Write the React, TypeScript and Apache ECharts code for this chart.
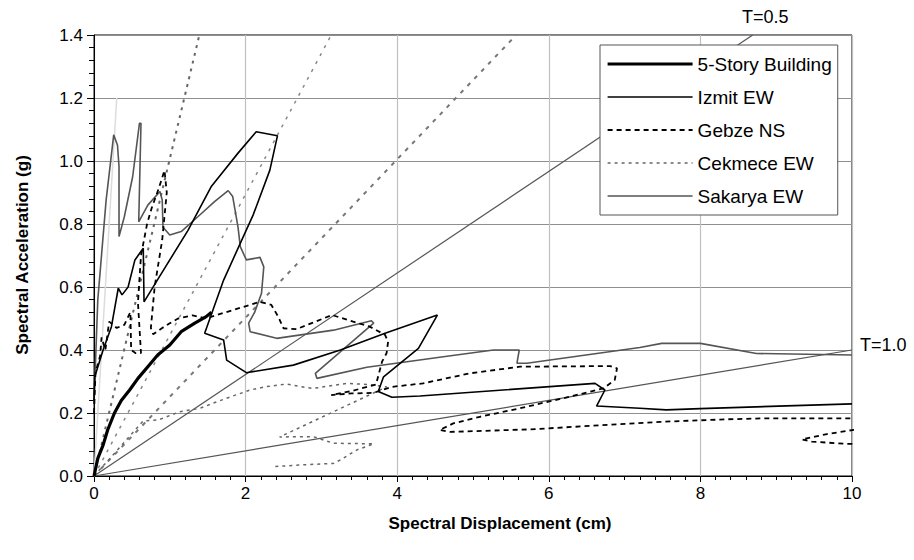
import React, { useEffect, useRef } from "react";
import * as echarts from "echarts";

// Sd (cm), Sa (g)
const story5: [number, number][] = [
  [0, 0], [0.05, 0.056], [0.12, 0.098], [0.18, 0.146], [0.27, 0.2], [0.36, 0.24],
  [0.47, 0.273], [0.58, 0.31], [0.71, 0.347], [0.84, 0.384], [1.0, 0.416],
  [1.15, 0.458], [1.33, 0.485], [1.48, 0.506], [1.55, 0.52],
];

const izmitEW: [number, number][] = [
  [0, 0.24], [0.01, 0.315], [0.12, 0.4], [0.23, 0.474], [0.32, 0.596], [0.37, 0.575],
  [0.45, 0.6], [0.54, 0.686], [0.65, 0.723], [0.66, 0.553], [0.89, 0.643],
  [1.24, 0.78], [1.55, 0.92], [1.9, 1.025], [2.14, 1.093], [2.42, 1.08],
  [2.32, 0.971], [2.1, 0.829], [1.71, 0.622], [1.46, 0.453], [1.71, 0.432],
  [1.75, 0.368], [2.01, 0.328], [2.63, 0.352], [3.25, 0.4], [3.84, 0.453],
  [4.53, 0.511], [4.28, 0.405], [3.82, 0.315], [3.75, 0.268], [3.93, 0.25],
  [4.3, 0.254], [6.61, 0.294], [6.74, 0.273], [6.63, 0.222], [7.2, 0.215],
  [7.55, 0.21], [8.0, 0.214], [10, 0.229],
];

const gebzeNS: [number, number][] = [
  [0, 0.2], [0.02, 0.33], [0.08, 0.38], [0.1, 0.44], [0.15, 0.4], [0.2, 0.49],
  [0.3, 0.47], [0.4, 0.48], [0.48, 0.52], [0.49, 0.4], [0.55, 0.39], [0.62, 0.39],
  [0.58, 0.55], [0.62, 0.7], [0.7, 0.8], [0.76, 0.85], [0.85, 0.91], [0.93, 0.97],
  [0.96, 0.9], [0.9, 0.75], [0.8, 0.6], [0.75, 0.47], [0.78, 0.45], [0.9, 0.47],
  [1.0, 0.485], [1.11, 0.5], [1.3, 0.51], [1.48, 0.5], [1.62, 0.511], [2.19, 0.553],
  [2.34, 0.543], [2.43, 0.506], [2.5, 0.469], [2.67, 0.466], [3.14, 0.511],
  [3.42, 0.49], [3.64, 0.474], [3.84, 0.448], [3.88, 0.426], [3.86, 0.39],
  [3.8, 0.363], [3.72, 0.29], [3.4, 0.27], [3.13, 0.257], [3.4, 0.262],
  [3.69, 0.264], [3.93, 0.283], [4.34, 0.294], [4.96, 0.326], [5.62, 0.347],
  [6.81, 0.349], [6.9, 0.342], [6.87, 0.305], [6.72, 0.278], [6.28, 0.252],
  [5.62, 0.215], [5.09, 0.188], [4.74, 0.167], [4.56, 0.146], [4.7, 0.14],
  [5.75, 0.148], [7.47, 0.172], [8.35, 0.18], [8.83, 0.183], [10, 0.183],
  [10.5, 0.16], [9.95, 0.144], [9.67, 0.133], [9.51, 0.125], [9.34, 0.116],
  [9.47, 0.109], [9.93, 0.102], [10.5, 0.1],
];

const cekmeceEW: [number, number][] = [
  [0, 0], [0.3, 0.08], [0.65, 0.175], [0.85, 0.178], [1.13, 0.204], [1.4, 0.215],
  [1.57, 0.231], [1.75, 0.247], [2.06, 0.273], [2.28, 0.284], [2.54, 0.292],
  [2.72, 0.284], [2.89, 0.278], [3.33, 0.294], [3.64, 0.29], [3.86, 0.283],
  [2.45, 0.124], [2.89, 0.125], [3.16, 0.104], [3.69, 0.102],
  [3.47, 0.083], [3.25, 0.051], [3.16, 0.04], [2.72, 0.035], [2.39, 0.03],
];

const sakaryaEW: [number, number][] = [
  [0, 0.23], [0.05, 0.559], [0.16, 0.876], [0.26, 1.083], [0.31, 1.05], [0.33, 0.982],
  [0.33, 0.76], [0.4, 0.823], [0.51, 0.95], [0.6, 1.12], [0.62, 1.12], [0.59, 0.807],
  [0.71, 0.86], [0.87, 0.903], [0.9, 0.876], [0.91, 0.79], [1.0, 0.765], [1.15, 0.776],
  [1.37, 0.823], [1.59, 0.871], [1.77, 0.906], [1.83, 0.887], [1.9, 0.79],
  [1.93, 0.728], [2.01, 0.686], [2.19, 0.694], [2.24, 0.664], [2.21, 0.58],
  [2.12, 0.52], [2.04, 0.485], [2.06, 0.458], [2.41, 0.437], [3.16, 0.463],
  [3.66, 0.493], [3.69, 0.485], [2.92, 0.326], [2.94, 0.31], [3.6, 0.345],
  [4.56, 0.377], [5.27, 0.4], [5.61, 0.4], [5.58, 0.358], [5.71, 0.358],
  [7.2, 0.408], [7.49, 0.421], [8.0, 0.421], [8.74, 0.389], [10, 0.384],
];

// Constant-period lines: end points [Sd, Sa]
const periodLabels = ["T=0.1", "T=0.2", "T=0.3", "T=0.4", "T=0.5", "T=1.0"];
const periodEnds: [number, number][] = [
  [0.3, 1.2], [1.39, 1.4], [3.13, 1.4], [5.57, 1.4], [8.69, 1.4], [10, 0.4],
];

const xTicks = [0, 2, 4, 6, 8, 10];
const yTicks = [0, 0.2, 0.4, 0.6, 0.8, 1.0, 1.2, 1.4];

const FONT = "'Liberation Sans', Arial, sans-serif";

export default function App() {
  const ref = useRef<HTMLDivElement>(null);
  useEffect(() => {
    const chart = echarts.init(ref.current!, null, { renderer: "svg" });
    const periodStyles = [
      { color: "#dcdcdc", width: 1.5, type: "solid" },
      { color: "#666", width: 2, type: [3, 5] },
      { color: "#888", width: 1.5, type: [3, 6] },
      { color: "#777", width: 2, type: [4, 6] },
      { color: "#555", width: 1.2, type: "solid" },
      { color: "#555", width: 1.2, type: "solid" },
    ];
    const periodSeries = periodEnds.map((end, i) => ({
      name: periodLabels[i],
      type: "line",
      data: [[0, 0], end],
      symbol: "none",
      silent: true,
      lineStyle: periodStyles[i],
      z: 1,
    }));
    const mk = (name: string, data: [number, number][], ls: any) => ({
      name,
      type: "line",
      data,
      symbol: "none",
      clip: true,
      color: ls.color,
      lineStyle: ls,
      z: 3,
    });
    chart.setOption({
      animation: false,
      backgroundColor: "#fff",
      textStyle: { fontFamily: FONT },
      grid: {
        left: 94, right: 62, top: 35, bottom: 84,
        show: true, borderColor: "#000", borderWidth: 1, backgroundColor: "transparent",
      },
      xAxis: {
        type: "value", min: xTicks[0], max: xTicks[xTicks.length - 1], interval: 2,
        axisLine: { show: true, lineStyle: { color: "#000", width: 1 } },
        axisTick: { show: true, length: 6, lineStyle: { color: "#000" } },
        minorTick: { show: true, splitNumber: 10, length: 4, lineStyle: { color: "#000" } },
        splitLine: { show: true, lineStyle: { color: "#c0c0c0", width: 1.2 } },
        axisLabel: { color: "#000", fontSize: 17, fontFamily: FONT, margin: 9 },
      },
      yAxis: {
        type: "value", min: yTicks[0], max: yTicks[yTicks.length - 1], interval: 0.2,
        axisLine: { show: true, lineStyle: { color: "#000", width: 1 } },
        axisTick: { show: true, length: 7, lineStyle: { color: "#000" } },
        minorTick: { show: true, splitNumber: 5, length: 5, lineStyle: { color: "#000" } },
        splitLine: { show: true, lineStyle: { color: "#8f8f8f", width: 1.2 } },
        axisLabel: {
          color: "#000", fontSize: 17, fontFamily: FONT, margin: 11,
          formatter: (v: number) => v.toFixed(1),
        },
      },
      legend: {
        data: ["5-Story Building", "Izmit EW", "Gebze NS", "Cekmece EW", "Sakarya EW"],
        orient: "vertical",
        left: 600, top: 45,
        padding: [9, 6, 9, 6],
        itemWidth: 85, itemHeight: 14, itemGap: 13,
        backgroundColor: "#fff", borderColor: "#555", borderWidth: 1, borderRadius: 0,
        itemStyle: { opacity: 0 },
        lineStyle: { width: "inherit" },
        textStyle: { fontFamily: FONT, fontSize: 19, color: "#000", lineHeight: 20 },
      },
      graphic: [
        {
          type: "text", left: 742, top: 8,
          style: { text: periodLabels[4], font: `18px ${FONT}`, fill: "#000" },
        },
        {
          type: "text", left: 860, top: 336,
          style: { text: periodLabels[5], font: `18px ${FONT}`, fill: "#000" },
        },
        {
          type: "text", x: 22, y: 255, rotation: Math.PI / 2,
          style: {
            text: "Spectral Acceleration (g)", font: `bold 17px ${FONT}`, fill: "#000",
            align: "center", verticalAlign: "middle",
          },
        },
        {
          type: "text", x: 500, y: 523,
          style: {
            text: "Spectral Displacement (cm)", font: `bold 17px ${FONT}`, fill: "#000",
            align: "center", verticalAlign: "middle",
          },
        },
      ],
      series: [
        ...periodSeries,
        mk("Cekmece EW", cekmeceEW, { color: "#666", width: 1.5, type: [3, 4] }),
        mk("Sakarya EW", sakaryaEW, { color: "#555", width: 1.6, type: "solid" }),
        mk("Gebze NS", gebzeNS, { color: "#000", width: 1.8, type: [5, 4] }),
        mk("Izmit EW", izmitEW, { color: "#000", width: 1.6, type: "solid" }),
        mk("5-Story Building", story5, { color: "#000", width: 3.2, type: "solid" }),
      ],
    });
    return () => chart.dispose();
  }, []);
  return (
    <div
      ref={ref}
      style={{ position: "absolute", left: 0, top: 0, width: 914, height: 560 }}
    />
  );
}
